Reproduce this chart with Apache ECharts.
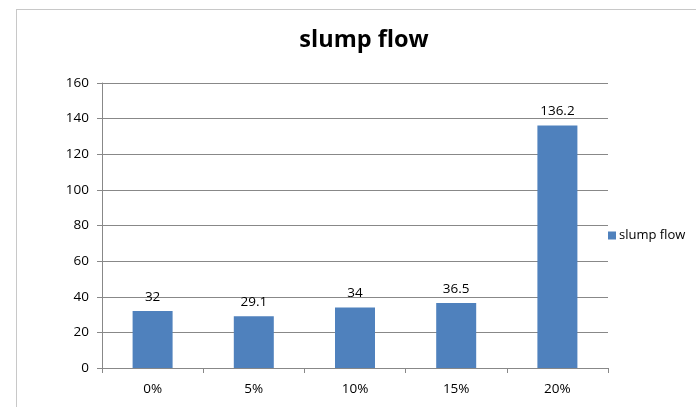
<!DOCTYPE html>
<html>
<head>
<meta charset="utf-8">
<script src="https://cdn.jsdelivr.net/npm/echarts@6/dist/echarts.min.js"></script>
<style>
  html, body { margin: 0; padding: 0; background: #fff; }
  #chart { width: 696px; height: 407px; }
  #frame { position: absolute; left: 16px; top: 9px; width: 700px; height: 420px; border: 1px solid #c8c8c8; box-sizing: border-box; pointer-events: none; }
</style>
</head>
<body>
<div id="chart"></div>
<div id="frame"></div>
<script>
// Slump flow by replacement percentage
const categories = ['0%', '5%', '10%', '15%', '20%'];
const slumpFlow = [32, 29.1, 34, 36.5, 136.2];
const seriesName = 'slump flow';
const yTicks = { min: 0, max: 160, interval: 20 };

const font = 'Open Sans, Liberation Sans, sans-serif';
const chart = echarts.init(document.getElementById('chart'), null, { renderer: 'canvas' });
chart.setOption({
  animation: false,
  backgroundColor: '#fff',
  title: {
    text: 'slump flow',
    left: 359, top: 23, textAlign: 'center',
    textStyle: { fontFamily: font, fontSize: 23.5, fontWeight: 'bold', color: '#000' }
  },
  legend: {
    data: [seriesName],
    orient: 'vertical',
    left: 603, top: 224,
    icon: 'rect', itemWidth: 8, itemHeight: 8, itemGap: 4,
    textStyle: { fontFamily: font, fontSize: 13, color: '#000', padding: [0, 0, 0, -2] }
  },
  grid: { left: 102, right: 88, top: 83, bottom: 39 },
  xAxis: {
    type: 'category',
    data: categories,
    axisLine: { lineStyle: { color: '#888', width: 1 } },
    axisTick: { show: true, alignWithLabel: false, length: 5, lineStyle: { color: '#888' } },
    axisLabel: { fontFamily: font, fontSize: 13.5, color: '#000', margin: 14 }
  },
  yAxis: {
    type: 'value',
    min: yTicks.min, max: yTicks.max, interval: yTicks.interval,
    axisLine: { show: true, lineStyle: { color: '#888', width: 1 } },
    axisTick: { show: true, length: 5, lineStyle: { color: '#888' } },
    axisLabel: { fontFamily: font, fontSize: 13.5, color: '#000', margin: 13 },
    splitLine: { lineStyle: { color: '#888', width: 1 } }
  },
  series: [{
    name: seriesName,
    type: 'bar',
    data: slumpFlow,
    barWidth: 40,
    itemStyle: { color: '#4F81BD' },
    label: {
      show: true, position: 'top', distance: 7,
      fontFamily: font, fontSize: 13.5, color: '#000'
    }
  }]
});
</script>
</body>
</html>
